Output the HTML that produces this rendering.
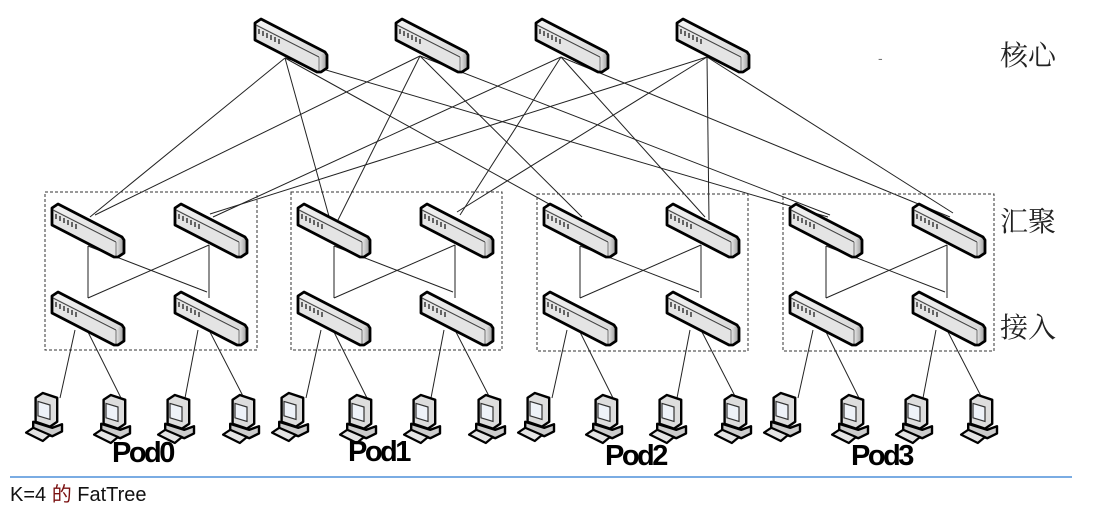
<!DOCTYPE html>
<html><head><meta charset="utf-8"><style>
html,body{margin:0;padding:0;background:#fff;}
body{width:1101px;height:510px;overflow:hidden;position:relative;}
.lbl{position:absolute;font-family:"Liberation Serif","Noto Serif CJK SC",serif;font-size:28px;color:#222;}
.pod{position:absolute;font-family:"Liberation Sans",sans-serif;font-weight:bold;font-size:29px;letter-spacing:-2.5px;color:#000;}
.cap{position:absolute;left:10px;top:478px;font-family:"Liberation Sans","Noto Sans CJK SC",sans-serif;font-size:20px;color:#111;}
</style></head><body>
<svg width="1101" height="510" style="position:absolute;left:0;top:0">
<defs>
<linearGradient id="gt" x1="0" y1="0" x2="1" y2="1"><stop offset="0" stop-color="#f4f4f4"/><stop offset="1" stop-color="#d8d8d8"/></linearGradient>
<linearGradient id="ge" x1="0" y1="0" x2="1" y2="0"><stop offset="0" stop-color="#e8e8e8"/><stop offset="1" stop-color="#9a9a9a"/></linearGradient>
<g id="sw">
<polygon points="0,5 6,1 70,34 64,38" fill="url(#gt)"/>
<polygon points="0,5 64,38 64,54 0,22" fill="#e4e4e4"/>
<polygon points="64,38 70,34 72,37 72,50 66,54 64,54" fill="url(#ge)"/>
<polygon points="0,5 6,1 70,34 72,37 72,50 66,54 62,54 0,22" fill="none" stroke="#000" stroke-width="2.8" stroke-linejoin="round"/>
<line x1="1" y1="7" x2="64" y2="39" stroke="#444" stroke-width="1"/>
<line x1="64" y1="39" x2="64" y2="53" stroke="#555" stroke-width="0.8"/>
<g stroke="#444" stroke-width="1.6">
<line x1="4" y1="11" x2="4" y2="16"/><line x1="8" y1="13" x2="8" y2="18"/><line x1="12" y1="15" x2="12" y2="20"/><line x1="16" y1="17" x2="16" y2="22"/><line x1="20" y1="19" x2="20" y2="24"/><line x1="24" y1="21" x2="24" y2="26"/>
</g>
</g>
<g id="pc0">
<polygon points="8,4 14,0 26,4 26,24 20,28 8,24" fill="#ddd" stroke="#000" stroke-width="2" stroke-linejoin="round"/>
<polygon points="10,7 20,10 20,22 10,19" fill="#eef2f8" stroke="#333" stroke-width="1"/>
<polygon points="6,24 22,29 30,26 30,32 22,36 6,31" fill="#ccc" stroke="#000" stroke-width="2" stroke-linejoin="round"/>
<polygon points="0,33 6,29 20,35 14,40" fill="#e4e4e4" stroke="#000" stroke-width="1.8" stroke-linejoin="round"/>
</g>
<g id="pc"><use href="#pc0" transform="scale(1.2)"/></g>
</defs>
<g stroke="#222" stroke-width="1" fill="none">
<line x1="285" y1="58" x2="90" y2="217"/><line x1="285" y1="58" x2="330" y2="220"/><line x1="285" y1="58" x2="578" y2="220"/><line x1="285" y1="58" x2="828" y2="217"/>
<line x1="420" y1="56" x2="95" y2="215"/><line x1="420" y1="56" x2="338" y2="220"/><line x1="420" y1="56" x2="582" y2="217"/><line x1="420" y1="56" x2="830" y2="215"/>
<line x1="561" y1="57" x2="213" y2="217"/><line x1="561" y1="57" x2="460" y2="215"/><line x1="561" y1="57" x2="705" y2="217"/><line x1="561" y1="57" x2="950" y2="217"/>
<line x1="707" y1="57" x2="210" y2="214"/><line x1="707" y1="57" x2="457" y2="212"/><line x1="707" y1="57" x2="709" y2="220"/><line x1="707" y1="57" x2="953" y2="213"/>
</g>
<g stroke="#333" stroke-width="1" fill="none" stroke-dasharray="3,2">
<rect x="45" y="192" width="212" height="158"/>
<rect x="291" y="192" width="211" height="158"/>
<rect x="537" y="194" width="211" height="157"/>
<rect x="783" y="194" width="211" height="157"/>
</g>
<g stroke="#222" stroke-width="1">
<g id="pl">
<line x1="88" y1="246" x2="88" y2="298"/><line x1="209" y1="245" x2="209" y2="298"/>
<line x1="88" y1="246" x2="207" y2="292"/><line x1="209" y1="245" x2="88" y2="298"/>
<line x1="75" y1="330" x2="60" y2="398"/><line x1="88" y1="332" x2="122" y2="400"/>
<line x1="198" y1="330" x2="185" y2="398"/><line x1="210" y1="332" x2="245" y2="400"/>
</g>
<use href="#pl" x="246"/><use href="#pl" x="492"/><use href="#pl" x="738"/>
</g>
<use href="#sw" x="255" y="18"/><use href="#sw" x="396" y="18"/><use href="#sw" x="536" y="18"/><use href="#sw" x="677" y="18"/>
<g id="ps">
<use href="#sw" x="52" y="203"/><use href="#sw" x="175" y="203"/>
<use href="#sw" x="52" y="291"/><use href="#sw" x="175" y="291"/>
</g>
<use href="#ps" x="246"/><use href="#ps" x="492"/><use href="#ps" x="738"/>
<g id="ph">
<use href="#pc" x="26" y="393"/><use href="#pc" x="94" y="395"/><use href="#pc" x="158" y="395"/><use href="#pc" x="223" y="395"/>
</g>
<use href="#ph" x="246"/><use href="#ph" x="492"/><use href="#ph" x="738"/>
<text x="878" y="63" font-family="Liberation Sans" font-size="14" fill="#777">-</text>
<line x1="10" y1="477" x2="1072" y2="477" stroke="#2a7ad2" stroke-width="1.3"/>
</svg>
<div class="lbl" style="left:1000px;top:34px">核心</div>
<div class="lbl" style="left:1000px;top:200px">汇聚</div>
<div class="lbl" style="left:1000px;top:306px">接入</div>
<div class="pod" style="left:112px;top:437px">Pod0</div>
<div class="pod" style="left:348px;top:436px">Pod1</div>
<div class="pod" style="left:605px;top:440px">Pod2</div>
<div class="pod" style="left:851px;top:440px">Pod3</div>
<div class="cap">K=4 <span style="color:#7a1010">的</span> FatTree</div>
</body></html>
